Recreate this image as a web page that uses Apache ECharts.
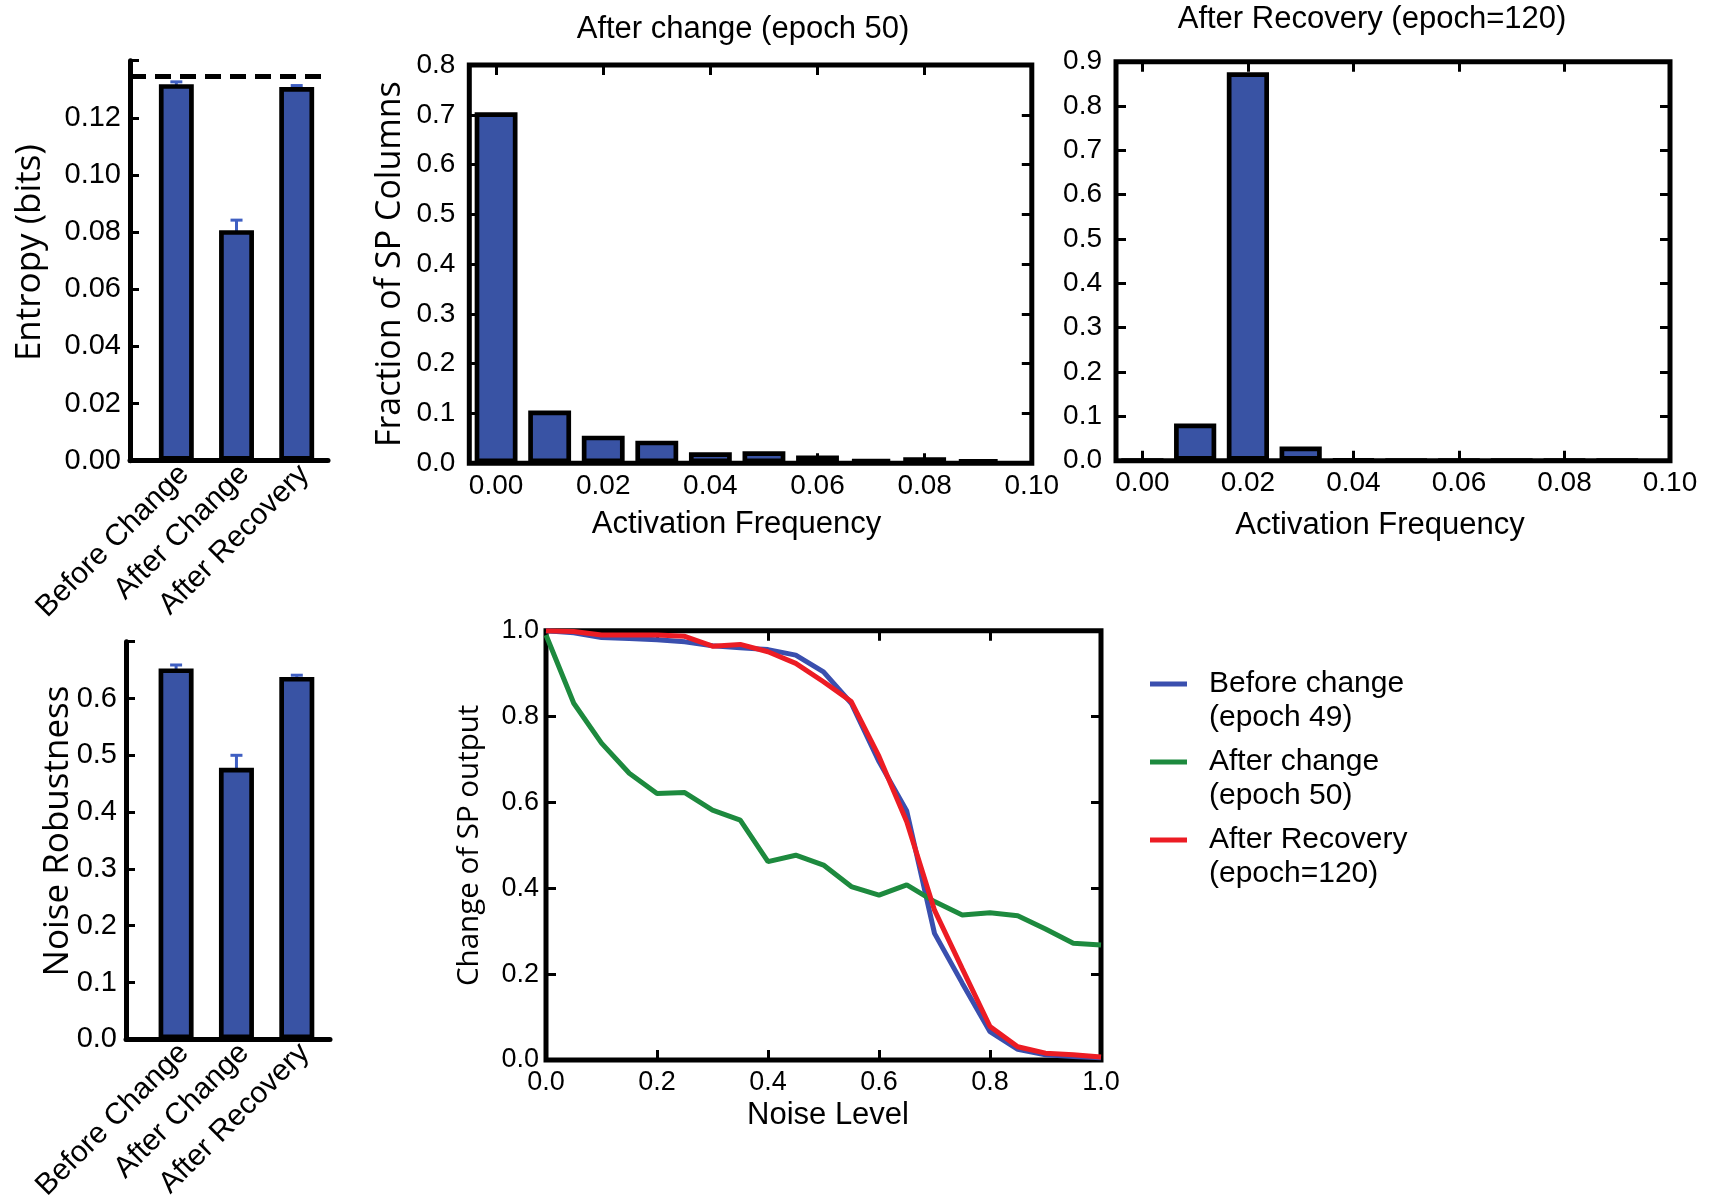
<!DOCTYPE html>
<html>
<head>
<meta charset="utf-8">
<script src="https://cdn.jsdelivr.net/npm/echarts@6/dist/echarts.min.js"></script>
<style>
  html, body { margin: 0; padding: 0; background: #fff; }
  #chart { width: 1714px; height: 1204px; }
</style>
</head>
<body>
<div id="chart"></div>
<script>
// ---- data ----
const conditions = ['Before Change', 'After Change', 'After Recovery'];
const conditionPos = [0, 1, 2];

const entropyValues = [0.1318, 0.0807, 0.1308];
const entropyErrors = [0.0008, 0.0035, 0.0005];
const entropyMax = 0.1347;

const robustnessValues = [0.653, 0.478, 0.638];
const robustnessErrors = [0.006, 0.022, 0.003];

const activationBins = [0.00, 0.01, 0.02, 0.03, 0.04, 0.05, 0.06, 0.07, 0.08, 0.09];
const fractionAfterChange = [0.705, 0.106, 0.0555, 0.0455, 0.022, 0.024, 0.0155, 0.009, 0.012, 0.008];
const fractionAfterRecovery = [0, 0.084, 0.876, 0.032, 0.002, 0.001, 0.001, 0.001, 0.001, 0.001];
const frequencyTicks = [0.00, 0.02, 0.04, 0.06, 0.08, 0.10];

const noiseLevels = [0, 0.05, 0.1, 0.15, 0.2, 0.25, 0.3, 0.35, 0.4, 0.45, 0.5,
                     0.55, 0.6, 0.65, 0.7, 0.75, 0.8, 0.85, 0.9, 0.95, 1.0];
const beforeChangeCurve = [1.0, 0.995, 0.984, 0.982, 0.979, 0.974, 0.965, 0.960, 0.956, 0.943, 0.904,
                           0.831, 0.695, 0.580, 0.295, 0.179, 0.066, 0.025, 0.012, 0.008, 0.005];
const afterChangeCurve = [0.99, 0.831, 0.738, 0.668, 0.621, 0.623, 0.582, 0.559, 0.462, 0.477, 0.454,
                          0.404, 0.384, 0.408, 0.369, 0.338, 0.343, 0.336, 0.305, 0.272, 0.268];
const afterRecoveryCurve = [1.0, 0.998, 0.990, 0.990, 0.990, 0.987, 0.964, 0.968, 0.951, 0.924, 0.881,
                            0.835, 0.707, 0.555, 0.349, 0.213, 0.078, 0.031, 0.016, 0.012, 0.007];

const legendNames = ['Before change\n(epoch 49)', 'After change\n(epoch 50)', 'After Recovery\n(epoch=120)'];

// ---- styling ----
const BAR_BLUE = '#3953a4';
const ERR_BLUE = '#3f5fc2';
const LINE_COLORS = ['#3a4fae', '#1d8a3e', '#ec1c24'];
const TICK_FONT = 'Liberation Sans';
const NAME_FONT = 'Open Sans';
const BLACK = '#000';
// rotated condition labels sit a little right of the bar centre
const CONDITION_LABEL_SHIFT = 0.13;

const chart = echarts.init(document.getElementById('chart'), null, { renderer: 'canvas' });

function gridBox(left, top, width, height, framed) {
  return {
    left, top, width, height,
    show: framed, borderColor: BLACK, borderWidth: 5, backgroundColor: 'transparent',
    containLabel: false, outerBoundsMode: 'none'
  };
}

function noSplit() { return { show: false }; }

// Category (bar) panel axes: spines on left and bottom only
function conditionXAxis(gridIndex, min, max) {
  return {
    type: 'value', gridIndex, min, max, position: 'bottom',
    axisLine: { show: true, onZero: false, lineStyle: { color: BLACK, width: 5 } },
    axisTick: { show: false },
    splitLine: noSplit(),
    axisLabel: {
      customValues: conditionPos.map(p => p + CONDITION_LABEL_SHIFT),
      formatter: v => conditions[Math.round(v)],
      rotate: 45, margin: 9, fontSize: 30, color: BLACK, fontFamily: TICK_FONT
    }
  };
}

function spineYAxis(gridIndex, max, interval, digits, name, nameGap, namePadLeft) {
  return {
    type: 'value', gridIndex, min: 0, max, interval, position: 'left',
    axisLine: { show: true, onZero: false, lineStyle: { color: BLACK, width: 5 } },
    axisTick: { show: true, inside: true, length: 9, lineStyle: { color: BLACK, width: 3 } },
    splitLine: noSplit(),
    axisLabel: {
      formatter: v => (v > max - interval / 2 ? '' : v.toFixed(digits)),
      margin: 9, fontSize: 29, color: BLACK, fontFamily: TICK_FONT
    },
    name, nameLocation: 'middle', nameRotate: 90, nameGap, nameMoveOverlap: false,
    nameTextStyle: { fontFamily: NAME_FONT, fontSize: 35, color: BLACK, padding: [0, 0, 0, namePadLeft] }
  };
}

// Framed panel axes: ticks inside on all four sides
function framedXAxis(gridIndex, position, min, max, opts) {
  const ax = {
    type: 'value', gridIndex, min, max, position,
    axisLine: { show: false, onZero: false },
    axisTick: { show: true, inside: true, length: 10, lineStyle: { color: BLACK, width: 3 } },
    splitLine: noSplit(),
    axisLabel: { show: false }
  };
  return Object.assign(ax, opts || {});
}
function framedYAxis(gridIndex, position, max, interval, opts) {
  const ax = {
    type: 'value', gridIndex, min: 0, max, interval, position,
    axisLine: { show: false, onZero: false },
    axisTick: { show: true, inside: true, length: 10, lineStyle: { color: BLACK, width: 3 } },
    splitLine: noSplit(),
    axisLabel: { show: false }
  };
  return Object.assign(ax, opts || {});
}

const freqTickStyle = { show: true, inside: true, length: 10, lineStyle: { color: BLACK, width: 3 }, customValues: frequencyTicks };
const freqLabel = { show: true, customValues: frequencyTicks, formatter: v => v.toFixed(2), margin: 9, fontSize: 28, color: BLACK, fontFamily: TICK_FONT };
const fracLabel = { show: true, formatter: v => v.toFixed(1), margin: 14, fontSize: 28, color: BLACK, fontFamily: TICK_FONT };
const freqName = (padRight, gap) => ({
  name: 'Activation Frequency', nameLocation: 'middle', nameGap: gap, nameMoveOverlap: false,
  nameTextStyle: { fontFamily: TICK_FONT, fontSize: 31, color: BLACK, padding: [0, padRight, 0, 0] }
});

function barSeries(xIdx, yIdx, xs, ys, width) {
  return {
    type: 'bar', xAxisIndex: xIdx, yAxisIndex: yIdx,
    data: xs.map((x, i) => [x, ys[i]]),
    barWidth: width, z: 2,
    itemStyle: { color: BAR_BLUE, borderColor: BLACK, borderWidth: 4.7 },
    emphasis: { disabled: true }, silent: true
  };
}

function errorSeries(xIdx, yIdx, values, errors) {
  return {
    type: 'custom', xAxisIndex: xIdx, yAxisIndex: yIdx, z: 1, silent: true,
    data: values.map((v, i) => [conditionPos[i], v - errors[i], v + errors[i]]),
    renderItem(params, api) {
      const lo = api.coord([api.value(0), api.value(1)]);
      const hi = api.coord([api.value(0), api.value(2)]);
      const st = { stroke: ERR_BLUE, lineWidth: 3 };
      return {
        type: 'group', children: [
          { type: 'line', shape: { x1: lo[0], y1: lo[1], x2: hi[0], y2: hi[1] }, style: st },
          { type: 'line', shape: { x1: hi[0] - 6, y1: hi[1], x2: hi[0] + 6, y2: hi[1] }, style: st },
          { type: 'line', shape: { x1: lo[0] - 6, y1: lo[1], x2: lo[0] + 6, y2: lo[1] }, style: st }
        ]
      };
    }
  };
}

function curveSeries(name, ys, color) {
  return {
    type: 'line', name, xAxisIndex: 6, yAxisIndex: 6,
    data: noiseLevels.map((x, i) => [x, ys[i]]),
    showSymbol: false, symbol: 'none', color,
    lineStyle: { color, width: 5 }, z: 3, silent: true
  };
}

const option = {
  animation: false,
  backgroundColor: '#fff',
  textStyle: { fontFamily: TICK_FONT, color: BLACK },
  grid: [
    gridBox(130, 60.7, 198, 400, false),      // entropy
    gridBox(469.3, 65, 562.5, 398.3, true),   // histogram after change
    gridBox(1116, 61.7, 554, 399, true),      // histogram after recovery
    gridBox(126, 641.7, 204, 397.6, false),   // noise robustness
    gridBox(546, 630.7, 555, 429.3, true)     // noise curves
  ],
  xAxis: [
    conditionXAxis(0, -0.77, 2.52),
    framedXAxis(1, 'bottom', -0.005, 0.1, Object.assign({ axisTick: freqTickStyle, axisLabel: freqLabel }, freqName(28, 46))),
    framedXAxis(1, 'top', -0.005, 0.1, { axisTick: freqTickStyle }),
    framedXAxis(2, 'bottom', -0.005, 0.1, Object.assign({ axisTick: freqTickStyle, axisLabel: freqLabel }, freqName(26, 49))),
    framedXAxis(2, 'top', -0.005, 0.1, { axisTick: freqTickStyle }),
    conditionXAxis(3, -0.83, 2.55),
    framedXAxis(4, 'bottom', 0, 1, {
      interval: 0.2,
      axisLabel: { show: true, formatter: v => v.toFixed(1), margin: 9, fontSize: 27, color: BLACK, fontFamily: TICK_FONT },
      name: 'Noise Level', nameLocation: 'middle', nameGap: 40, nameMoveOverlap: false,
      nameTextStyle: { fontFamily: TICK_FONT, fontSize: 31, color: BLACK, padding: [0, 0, 0, 9] }
    }),
    framedXAxis(4, 'top', 0, 1, { interval: 0.2 })
  ],
  yAxis: [
    spineYAxis(0, 0.14, 0.02, 2, 'Entropy (bits)', 82, 16),
    framedYAxis(1, 'left', 0.8, 0.1, {
      axisLabel: fracLabel,
      name: 'Fraction of SP Columns', nameLocation: 'middle', nameRotate: 90, nameGap: 62, nameMoveOverlap: false,
      nameTextStyle: { fontFamily: NAME_FONT, fontSize: 34, color: BLACK }
    }),
    framedYAxis(1, 'right', 0.8, 0.1),
    framedYAxis(2, 'left', 0.9, 0.1, { axisLabel: fracLabel }),
    framedYAxis(2, 'right', 0.9, 0.1),
    spineYAxis(3, 0.7, 0.1, 1, 'Noise Robustness', 50, 19),
    framedYAxis(4, 'left', 1.0, 0.2, {
      axisLabel: { show: true, formatter: v => v.toFixed(1), margin: 7, fontSize: 27, color: BLACK, fontFamily: TICK_FONT },
      name: 'Change of SP output', nameLocation: 'middle', nameRotate: 90, nameGap: 61, nameMoveOverlap: false,
      nameTextStyle: { fontFamily: NAME_FONT, fontSize: 29.5, color: BLACK }
    }),
    framedYAxis(4, 'right', 1.0, 0.2)
  ],
  legend: {
    orient: 'vertical', left: 1150, top: 633, padding: 0,
    itemWidth: 37, itemHeight: 5, itemGap: -24, icon: 'rect',
    selectedMode: false,
    data: legendNames,
    // a blank first line keeps the swatch level with the first text line
    formatter: name => '\n' + name,
    textStyle: { fontFamily: TICK_FONT, fontSize: 30, lineHeight: 34, color: BLACK, padding: [0, 0, 0, 17] }
  },
  graphic: [
    { type: 'text', x: 743, y: 29, silent: true,
      style: { text: 'After change (epoch 50)', fontSize: 31, fontFamily: TICK_FONT, fill: BLACK, align: 'center', verticalAlign: 'middle' } },
    { type: 'text', x: 1372, y: 19, silent: true,
      style: { text: 'After Recovery (epoch=120)', fontSize: 31, fontFamily: TICK_FONT, fill: BLACK, align: 'center', verticalAlign: 'middle' } }
  ],
  series: [
    Object.assign(barSeries(0, 0, conditionPos, entropyValues, '58%'), {
      markLine: {
        silent: true, symbol: ['none', 'none'], label: { show: false }, precision: 4,
        lineStyle: { color: BLACK, width: 5, type: [16, 9] },
        data: [{ yAxis: entropyMax }]
      }
    }),
    errorSeries(0, 0, entropyValues, entropyErrors),
    barSeries(1, 1, activationBins, fractionAfterChange, '80%'),
    barSeries(3, 3, activationBins, fractionAfterRecovery, '80%'),
    barSeries(5, 5, conditionPos, robustnessValues, '58%'),
    errorSeries(5, 5, robustnessValues, robustnessErrors),
    curveSeries(legendNames[0], beforeChangeCurve, LINE_COLORS[0]),
    curveSeries(legendNames[1], afterChangeCurve, LINE_COLORS[1]),
    curveSeries(legendNames[2], afterRecoveryCurve, LINE_COLORS[2])
  ]
};

chart.setOption(option);
</script>
</body>
</html>
